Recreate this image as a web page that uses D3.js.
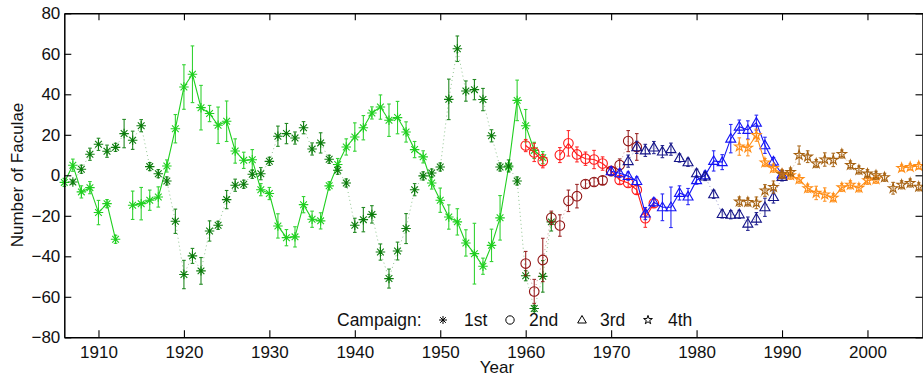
<!DOCTYPE html>
<html>
<head>
<meta charset="utf-8">
<script src="https://cdn.jsdelivr.net/npm/d3@7"></script>
<style>
  html, body { margin: 0; padding: 0; background: #fff; }
  svg { display: block; }
  text { font-family: "Liberation Sans", Arial, sans-serif; }
</style>
</head>
<body>
<svg id="chart" width="923" height="377"></svg>
<script>
// ---------------- DATA ----------------
// Campaign 1 (asterisks): solid bright green and dotted dark green
const c1aYears = d3.range(1906, 1963);
const c1aValues = [-3.5, 5, -8.2, -6.1, -18.4, -14, -31.6, null, -14.8, -14, -12.3, -10.7, 4.6, 23, 43.6, 49.9, 33.4, 30.5, 24.7, 26.7, 12, 7.4, 7.7, -7.1, -9, -25, -30.8, -30.4, -14.5, -21.7, -22.5, -5.2, 5.3, 14, 18.9, 23.5, 30.8, 33.7, 27.2, 28.5, 21.4, 12.7, 9.1, -3.8, -12.3, -20.6, -23, -33.4, -38.7, -44.9, -34.6, -21, 4.1, 37, 24.5, 12.3, 8.7];
const c1aErrors = [2, 3, 3, 3, 6, 2, 2, null, 7, 8, 5, 5, 3, 7, 11, 14, 11, 4, 9, 10, 6, 4, 5, 3, 3, 6, 4, 5, 4, 4, 4, 2, 3, 4, 7, 6, 3, 6, 8, 8, 5, 4, 3, 3, 6, 6, 6.5, 6.5, 15, 4, 8, 11, 2, 10, 8, 4, 3];

const c1bYears = d3.range(1907, 1964);
const c1bValues = [-3.3, 3, 10.4, 15.3, 11.9, 13.8, 20.6, 17.3, 24.5, 4.3, 0.8, -2.8, -22.7, -49, -39.8, -47.2, -27.5, -24.7, -12, -4.9, -4.4, 0.5, 0.8, 6.9, 19.3, 20.6, 18.4, 23.5, 13, 16, 7.9, 2.5, -3.8, -24.7, -21.9, -19.3, -37.9, -51, -37.4, -26.3, -7.1, -0.3, 1.1, 4.1, 37.5, 62.5, 41.6, 42.3, 37.4, 19.5, 4.1, 4.6, -2.8, -49.6, -65.8, -49.9, -23];
const c1bErrors = [1, 2, 3, 3, 3, 2, 7, 4.5, 3, 2, 2, 2, 6, 7, 3.7, 6.6, 5, 2, 4.5, 3, 2, 2, 3, 2, 5, 5, 3, 3, 3, 5, 2, 2, 2, 3.5, 6, 4.3, 4, 4.7, 4.4, 7.4, 3, 2, 2, 2, 10, 6.3, 5, 5, 5.5, 3, 2, 3, 2, 2.5, 1.5, 7.8, 4.5];

// Campaign 2 (circles): solid red and dotted dark red
const c2aYears = d3.range(1960, 1976);
const c2aValues = [14.7, 11.3, 7, null, 10, 15.8, 10.3, 8.2, 7.8, 5.8, 2.2, -2.3, -3.8, -7.2, -21.2, -13.8];
const c2aErrors = [3, 4.5, 3.3, null, 3.7, 6.3, 3.7, 3.3, 4.5, 3.3, 2, 2, 2, 2, 4.5, 2];

const c2bYears = d3.range(1960, 1974);
const c2bValues = [-43.6, -57.4, -41.8, -21, -24.8, -12.6, -10.3, -4.3, -3.3, -2.5, 2, 5.1, 16.9, 14];
const c2bErrors = [6, 6, 10.7, 3.3, 5.3, 5.3, 5.8, 2, 2, 2, 2, 3, 5.2, 6.6];

// Campaign 3 (triangles): solid blue and dotted navy
const c3aYears = d3.range(1970, 1991);
const c3aValues = [2, 1, -0.4, -2.8, -18.9, -13.3, -15.8, -15.8, -8.7, -10.5, -2.4, 0, 7.1, 6.5, 18.1, 24, 22.4, 26, 14.8, 6.8, 0.4];
const c3aErrors = [2, 2, 2, 2, 3, 2, 6.6, 10, 3.5, 4, 2, 2, 5, 3.7, 7, 3.3, 4.5, 3.7, 4, 2, 2];

const c3bYears = d3.range(1972, 1991);
const c3bValues = [7, 13.8, 12.3, 13.7, 11.7, 12.9, 8.5, 6.4, 1, -0.6, -9.4, -19.1, -19.5, -19.3, -23.9, -21.4, -15.8, -10.7, -0.8];
const c3bErrors = [3, 3, 3, 3, 3, 3, 2, 2, 2, 2, 2, 2, 2, 2, 3.3, 3, 4.5, 3, 2];

// Campaign 4 (stars): solid orange and dotted brown
const c4aYears = d3.range(1985, 2007);
const c4aValues = [14.2, 13.6, 19.8, 6.3, 3.5, 0.7, 0, -1.9, -6.4, -8.7, -9.5, -11.1, -6, -4.7, -6.2, -2.5, -2, null, null, 3.6, 4.1, 4.6];
const c4aErrors = [4.3, 4, 3, 2, 2, 2, 2, 2, 2, 3.3, 3.3, 2, 2, 2, 2, 2, 2, null, null, 1.5, 1.5, 1.5];

const c4bYears = d3.range(1985, 2007);
const c4bValues = [-13, -13.2, -13.6, -7.5, -5.8, 0.5, 1.6, 10, 9.2, 5.8, 7.8, 7.6, 10.5, 5.1, 2.6, 0.8, 0, -1, -6.4, -4.7, -3.8, -5.7];
const c4bErrors = [2.3, 2, 2.9, 2.9, 3, 2, 2, 4.5, 2.9, 2, 3.3, 3.3, 2, 2, 2, 2, 2, 2, 2.9, 2, 2, 2];

const xTicks = [1910, 1920, 1930, 1940, 1950, 1960, 1970, 1980, 1990, 2000];
const yTicks = [-80, -60, -40, -20, 0, 20, 40, 60, 80];
const legendLabels = ["1st", "2nd", "3rd", "4th"];

// ---------------- LAYOUT ----------------
const svg = d3.select("#chart");
const L = 64.3, R = 923, T = 13.3, B = 337.3;
const x = d3.scaleLinear().domain([1906, 2006.5]).range([L, R]);
const y = d3.scaleLinear().domain([-80, 80]).range([B, T]);

const FS = 17;

// asterisk symbol (8 arms)
const asterisk = {
  draw(ctx, size) {
    const r = Math.sqrt(size) / 2;
    const d = r * Math.SQRT1_2;
    ctx.moveTo(-r, 0); ctx.lineTo(r, 0);
    ctx.moveTo(0, -r); ctx.lineTo(0, r);
    ctx.moveTo(-d, -d); ctx.lineTo(d, d);
    ctx.moveTo(-d, d); ctx.lineTo(d, -d);
  }
};
const triangleUp = {
  draw(ctx, size) {
    const s = Math.sqrt(size);
    const h = s * Math.sqrt(3) / 2;
    ctx.moveTo(0, -h * 0.6);
    ctx.lineTo(s / 2, h * 0.4);
    ctx.lineTo(-s / 2, h * 0.4);
    ctx.closePath();
  }
};

function series(years, values, errors) {
  return years.map((yr, i) => ({ yr, v: values[i], e: errors[i] }));
}

const seriesList = [
  { data: series(c1aYears, c1aValues, c1aErrors), color: "#1fcf1f", dotted: false, sym: asterisk, size: 90 },
  { data: series(c1bYears, c1bValues, c1bErrors), color: "#0c7d0c", dotted: true, sym: asterisk, size: 90 },
  { data: series(c2aYears, c2aValues, c2aErrors), color: "#ff1a1a", dotted: false, sym: d3.symbolCircle, size: 72 },
  { data: series(c2bYears, c2bValues, c2bErrors), color: "#921414", dotted: true, sym: d3.symbolCircle, size: 72 },
  { data: series(c3aYears, c3aValues, c3aErrors), color: "#1414f5", dotted: false, sym: triangleUp, size: 100 },
  { data: series(c3bYears, c3bValues, c3bErrors), color: "#141488", dotted: true, sym: triangleUp, size: 100 },
  { data: series(c4aYears, c4aValues, c4aErrors), color: "#ff8c14", dotted: false, sym: d3.symbolStar, size: 28 },
  { data: series(c4bYears, c4bValues, c4bErrors), color: "#a5600f", dotted: true, sym: d3.symbolStar, size: 28 }
];

const line = d3.line().defined(d => d.v != null).x(d => x(d.yr)).y(d => y(d.v));

const plot = svg.append("g");
seriesList.forEach(s => {
  const g = plot.append("g");
  g.append("path")
    .attr("d", line(s.data))
    .attr("fill", "none")
    .attr("stroke", s.color)
    .attr("stroke-width", s.dotted ? 1 : 1.1)
    .attr("stroke-dasharray", s.dotted ? "1,3" : null)
    .attr("opacity", s.dotted ? 0.45 : 1);
  const pts = s.data.filter(d => d.v != null);
  // error bars
  const eb = g.append("g").attr("stroke", s.color).attr("stroke-width", 1.1).attr("fill", "none").attr("opacity", 0.9);
  pts.forEach(d => {
    const xx = x(d.yr), y0 = y(d.v - d.e), y1 = y(d.v + d.e);
    eb.append("line").attr("x1", xx).attr("x2", xx).attr("y1", y0).attr("y2", y1);
    eb.append("line").attr("x1", xx - 1.8).attr("x2", xx + 1.8).attr("y1", y0).attr("y2", y0);
    eb.append("line").attr("x1", xx - 1.8).attr("x2", xx + 1.8).attr("y1", y1).attr("y2", y1);
  });
  // markers
  const sym = d3.symbol().type(s.sym).size(s.size);
  g.selectAll("path.m").data(pts).join("path")
    .attr("class", "m")
    .attr("d", sym)
    .attr("transform", d => `translate(${x(d.yr)},${y(d.v)})`)
    .attr("fill", "none")
    .attr("stroke", s.color)
    .attr("stroke-width", 1.1);
});

// ---------------- AXES ----------------
const axB = svg.append("g").attr("transform", `translate(0,${B})`)
  .call(d3.axisBottom(x).tickValues(xTicks).tickFormat(d3.format("d")).tickSizeInner(-7).tickSizeOuter(0).tickPadding(8.5));
const axT = svg.append("g").attr("transform", `translate(0,${T})`)
  .call(d3.axisTop(x).tickValues(xTicks).tickFormat("").tickSizeInner(-7).tickSizeOuter(0));
const axL = svg.append("g").attr("transform", `translate(${L},0)`)
  .call(d3.axisLeft(y).tickValues(yTicks).tickSizeInner(-7).tickSizeOuter(0).tickPadding(4));
const axR = svg.append("g").attr("transform", `translate(${R - 0.5},0)`)
  .call(d3.axisRight(y).tickValues(yTicks).tickFormat("").tickSizeInner(-7).tickSizeOuter(0));

[axB, axT, axL, axR].forEach(a => {
  a.select(".domain").attr("stroke", "#000").attr("stroke-width", 1.5);
  a.selectAll(".tick line").attr("stroke", "#000").attr("stroke-width", 1.1);
  a.selectAll(".tick text").attr("fill", "#111").style("font-size", FS + "px").style("font-family", "'Liberation Sans', Arial, sans-serif");
});

// axis titles
svg.append("text")
  .attr("transform", `translate(23,175) rotate(-90)`)
  .attr("text-anchor", "middle")
  .style("font-size", FS + "px")
  .attr("fill", "#111")
  .text("Number of Faculae");
svg.append("text")
  .attr("x", 497).attr("y", 373)
  .attr("text-anchor", "middle")
  .style("font-size", FS + "px")
  .attr("fill", "#111")
  .text("Year");

// ---------------- LEGEND ----------------
const lg = svg.append("g");
lg.append("text").attr("x", 337).attr("y", 326).style("font-size", "17.5px").attr("fill", "#111").text("Campaign:");
const legendSyms = [
  { sym: asterisk, size: 64, mx: 443, tx: 464 },
  { sym: d3.symbolCircle, size: 55, mx: 510, tx: 529 },
  { sym: triangleUp, size: 75, mx: 582, tx: 600 },
  { sym: d3.symbolStar, size: 24, mx: 648, tx: 668 }
];
legendSyms.forEach((s, i) => {
  lg.append("path").attr("d", d3.symbol().type(s.sym).size(s.size)())
    .attr("transform", `translate(${s.mx},320)`)
    .attr("fill", "none").attr("stroke", "#000").attr("stroke-width", 1);
  lg.append("text").attr("x", s.tx).attr("y", 326).style("font-size", "17.5px").attr("fill", "#111").text(legendLabels[i]);
});
</script>
</body>
</html>
